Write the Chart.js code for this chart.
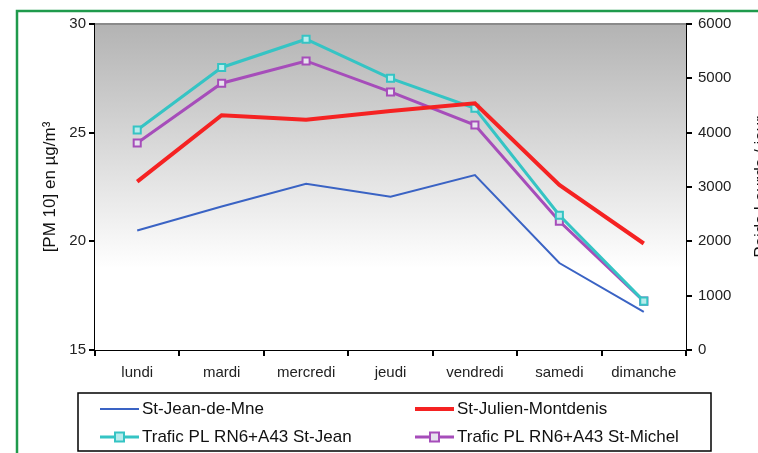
<!DOCTYPE html>
<html>
<head>
<meta charset="utf-8">
<script src="https://cdn.jsdelivr.net/npm/chart.js@4/dist/chart.umd.min.js"></script>
<style>
    html, body { margin: 0; padding: 0; background: #fff; overflow: hidden; }
    #wrap { width: 758px; height: 453px; overflow: hidden; position: relative; }
    canvas { position: absolute; left: 0; top: 0; }
</style>
</head>
<body>
<div id="wrap"><canvas id="chart" width="766" height="470"></canvas></div>
<script>
'use strict'

const days = ["lundi", "mardi", "mercredi", "jeudi", "vendredi", "samedi", "dimanche"];

// [PM 10] en µg/m3 (left axis)
const stJeanPM = [20.5, 21.6, 22.65, 22.05, 23.05, 19.0, 16.75];
const stJulienPM = [22.75, 25.8, 25.6, 26.0, 26.35, 22.6, 19.9];

// Poids Lourds / jour (right axis)
const traficStJean = [4050, 5200, 5720, 5000, 4450, 2480, 900];
const traficStMichel = [3810, 4910, 5320, 4750, 4140, 2370, 900];

const leftTicks = [15, 20, 25, 30];
const rightTicks = [0, 1000, 2000, 3000, 4000, 5000, 6000];
const rightTitle = "Poids Lourds / jour";

const fontFamily = "'Liberation Sans', Arial, sans-serif";
const tickFont = { family: fontFamily, size: 15 };

// gradient background + green frame + boxed legend + right title
const decorPlugin = {
    id: "decor",
    beforeDatasetsDraw(chart) {
        const { ctx, chartArea } = chart;
        const g = ctx.createLinearGradient(0, chartArea.top, 0, chartArea.bottom);
        g.addColorStop(0, "#b3b3b3");
        g.addColorStop(0.75, "#ffffff");
        g.addColorStop(1, "#ffffff");
        ctx.save();
        ctx.fillStyle = g;
        ctx.fillRect(chartArea.left, chartArea.top, chartArea.right - chartArea.left, chartArea.bottom - chartArea.top);
        ctx.strokeStyle = "#8a8a8a";
        ctx.lineWidth = 2;
        ctx.beginPath();
        ctx.moveTo(chartArea.left, chartArea.top);
        ctx.lineTo(chartArea.right, chartArea.top);
        ctx.stroke();
        ctx.restore();
    },
    afterDraw(chart) {
        const ctx = chart.ctx;
        const area = chart.chartArea;
        ctx.save();
        // green frame
        ctx.strokeStyle = "#1f9a4c";
        ctx.lineWidth = 2.5;
        ctx.strokeRect(17, 11, 800, 500);

        // right axis title, reads bottom to top, cut by the page edge
        ctx.save();
        ctx.translate(761, (area.top + area.bottom) / 2);
        ctx.rotate(-Math.PI / 2);
        ctx.font = "17px " + fontFamily;
        ctx.fillStyle = "#111";
        ctx.textAlign = "center";
        ctx.textBaseline = "middle";
        ctx.fillText(rightTitle, 0, 0);
        ctx.restore();

        // legend box
        ctx.strokeStyle = "#000";
        ctx.lineWidth = 1.5;
        ctx.strokeRect(78, 393, 633, 58);

        const slots = [
            { x: 100, y: 409 },
            { x: 415, y: 409 },
            { x: 100, y: 437 },
            { x: 415, y: 437 }
        ];
        ctx.font = "17px " + fontFamily;
        ctx.textBaseline = "middle";
        chart.data.datasets.forEach((ds, i) => {
            const s = slots[i];
            ctx.strokeStyle = ds.borderColor;
            ctx.lineWidth = ds.borderWidth;
            ctx.beginPath();
            ctx.moveTo(s.x, s.y);
            ctx.lineTo(s.x + 39, s.y);
            ctx.stroke();
            if (ds.pointRadius > 0) {
                ctx.fillStyle = ds.pointBackgroundColor;
                ctx.lineWidth = 2;
                ctx.strokeStyle = ds.borderColor;
                ctx.fillRect(s.x + 15, s.y - 4.5, 9, 9);
                ctx.strokeRect(s.x + 15, s.y - 4.5, 9, 9);
            }
            ctx.fillStyle = "#111";
            ctx.fillText(ds.label, s.x + 42, s.y);
        });
        ctx.restore();
    }
};

const datasets = [
    {
        label: "St-Jean-de-Mne",
        data: stJeanPM,
        yAxisID: "y",
        borderColor: "#3a63c4",
        borderWidth: 2,
        pointRadius: 0
    },
    {
        label: "St-Julien-Montdenis",
        data: stJulienPM,
        yAxisID: "y",
        borderColor: "#f52222",
        borderWidth: 4,
        pointRadius: 0
    },
    {
        label: "Trafic PL RN6+A43 St-Jean",
        data: traficStJean,
        yAxisID: "y2",
        borderColor: "#35c4c4",
        borderWidth: 3,
        pointStyle: "rect",
        pointRadius: 5,
        pointBorderWidth: 2,
        pointBackgroundColor: "#b8ecec"
    },
    {
        label: "Trafic PL RN6+A43 St-Michel",
        data: traficStMichel,
        yAxisID: "y2",
        borderColor: "#a64dba",
        borderWidth: 3,
        pointStyle: "rect",
        pointRadius: 5,
        pointBorderWidth: 2,
        pointBackgroundColor: "#e6e2ee"
    }
];

new Chart(document.getElementById("chart"), {
    type: "line",
    data: { labels: days, datasets: datasets },
    plugins: [decorPlugin],
    options: {
        responsive: false,
        animation: false,
        layout: { padding: { left: 36, top: 24, right: 0, bottom: 0 } },
        plugins: {
            legend: { display: false },
            tooltip: { enabled: false }
        },
        elements: { line: { tension: 0 } },
        scales: {
            x: {
                offset: true,
                grid: { drawOnChartArea: false, offset: true, tickLength: 6, color: "#000", lineWidth: 2 },
                border: { color: "#000", width: 2 },
                ticks: { color: "#222", font: tickFont, padding: 8, maxRotation: 0 },
                afterFit(scale) { scale.height = 120; }
            },
            y: {
                position: "left",
                min: 15,
                max: 30,
                afterBuildTicks(scale) { scale.ticks = leftTicks.map(v => ({ value: v })); },
                grid: { drawOnChartArea: false, tickLength: 6, color: "#000", lineWidth: 2 },
                border: { color: "#000", width: 2 },
                ticks: { color: "#222", font: tickFont, padding: 3 },
                title: {
                    display: true,
                    text: "[PM 10] en µg/m³",
                    color: "#111",
                    font: { family: fontFamily, size: 17 }
                },
                afterFit(scale) { scale.width = 59; }
            },
            y2: {
                position: "right",
                min: 0,
                max: 6000,
                afterBuildTicks(scale) { scale.ticks = rightTicks.map(v => ({ value: v })); },
                grid: { drawOnChartArea: false, tickLength: 6, color: "#000", lineWidth: 2 },
                border: { color: "#000", width: 2 },
                ticks: { color: "#222", font: tickFont, padding: 6, callback: v => String(v) },
                afterFit(scale) { scale.width = 80; }
            }
        }
    }
});
</script>
</body>
</html>
